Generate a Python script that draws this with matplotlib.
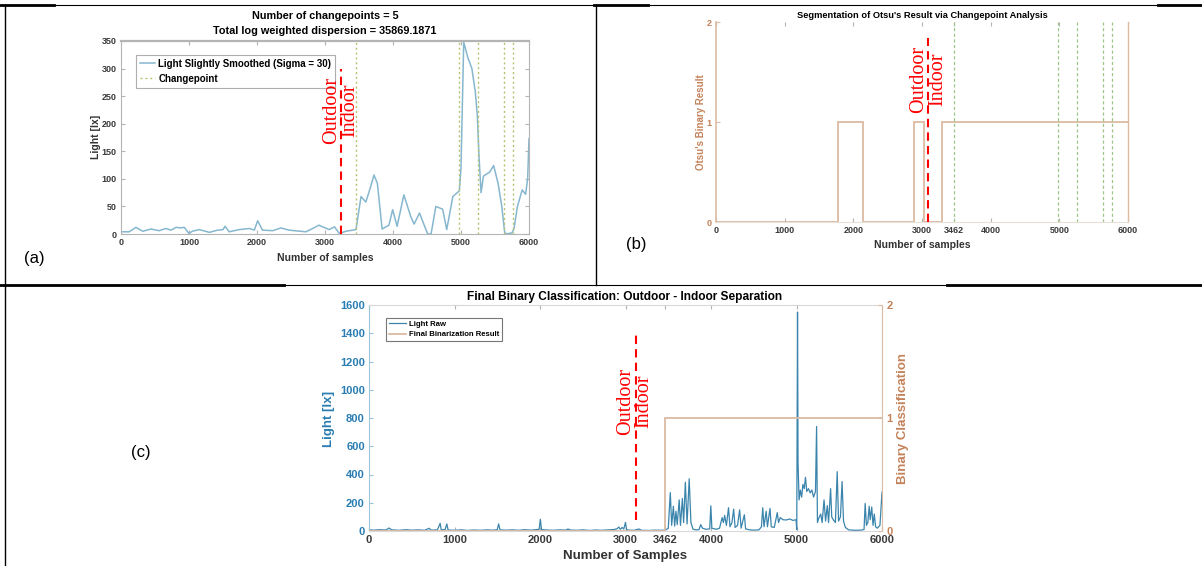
import matplotlib
matplotlib.use("Agg")
from matplotlib import pyplot as plt
from matplotlib.lines import Line2D

# ---- data ----
smooth_points = [(0, 4), (120, 4), (220, 12), (320, 5), (440, 9), (560, 6), (660, 10), (735, 7),
                 (810, 12), (880, 11), (930, 12), (1000, 1), (1050, 5), (1150, 8), (1300, 3),
                 (1420, 7), (1500, 8), (1530, 14), (1590, 4), (1740, 8), (1890, 10), (1960, 7),
                 (2010, 24), (2080, 7), (2230, 6), (2350, 11), (2470, 7), (2720, 4), (2820, 10),
                 (2910, 16), (3060, 8), (3140, 13), (3210, 1), (3310, 5), (3455, 8), (3530, 68),
                 (3600, 58), (3670, 85), (3720, 107), (3770, 92), (3840, 9), (3940, 16), (3995, 44),
                 (4060, 14), (4160, 71), (4260, 32), (4310, 18), (4390, 38), (4440, 22), (4510, 0),
                 (4560, 0), (4630, 50), (4730, 45), (4790, 8), (4880, 68), (4975, 78), (5000, 120),
                 (5040, 348), (5100, 320), (5160, 300), (5210, 258), (5240, 215), (5265, 140),
                 (5295, 75), (5330, 105), (5420, 112), (5480, 124), (5545, 92), (5600, 50),
                 (5640, 5), (5660, 0), (5750, 2), (5780, 10), (5830, 50), (5900, 80), (5950, 72),
                 (5980, 100), (6000, 173)]
changepoints = [3462, 4975, 5250, 5635, 5765]

otsu_edges = [0, 1775, 2135, 2877, 3026, 3288, 6000]
otsu_values = [0, 1, 0, 1, 0, 1]

raw_points = [(0, 8), (60, 6), (120, 9), (200, 7), (234, 21), (265, 8), (350, 5), (430, 9),
              (500, 6), (580, 8), (650, 5), (703, 19), (725, 6), (800, 8), (832, 54), (845, 8),
              (890, 10), (910, 50), (925, 7), (1000, 5), (1080, 8), (1150, 4), (1230, 7),
              (1300, 5), (1380, 8), (1450, 6), (1500, 9), (1516, 50), (1532, 8), (1600, 6),
              (1680, 8), (1750, 5), (1820, 9), (1900, 6), (1960, 10), (1990, 12), (2004, 83),
              (2018, 10), (2080, 7), (2150, 5), (2230, 8), (2300, 6), (2328, 14), (2355, 7),
              (2430, 5), (2500, 8), (2580, 4), (2650, 7), (2720, 5), (2800, 8), (2860, 10),
              (2900, 15), (2922, 28), (2940, 12), (2961, 25), (2980, 14), (3000, 61), (3012, 10),
              (3040, 6), (3100, 5), (3156, 14), (3190, 5), (3280, 4), (3350, 6), (3420, 5),
              (3462, 6), (3500, 18), (3524, 272), (3540, 40), (3560, 175), (3575, 35), (3590, 140),
              (3605, 45), (3628, 220), (3643, 40), (3665, 230), (3680, 60), (3700, 345), (3720, 50),
              (3745, 370), (3765, 60), (3790, 12), (3830, 8), (3860, 10), (3880, 45), (3900, 20),
              (3940, 12), (3985, 15), (3998, 178), (4010, 20), (4060, 12), (4100, 20), (4130, 95),
              (4145, 60), (4160, 110), (4180, 40), (4205, 165), (4222, 30), (4245, 60), (4265, 155),
              (4282, 25), (4310, 40), (4335, 150), (4352, 20), (4390, 115), (4405, 15), (4450, 8),
              (4500, 6), (4560, 8), (4590, 30), (4605, 165), (4620, 30), (4645, 140), (4660, 30),
              (4690, 160), (4705, 30), (4740, 25), (4775, 130), (4790, 60), (4810, 95), (4840, 80),
              (4880, 78), (4920, 85), (4960, 75), (4995, 80), (5003, 10), (5012, 1550), (5018, 480),
              (5030, 220), (5045, 290), (5060, 240), (5075, 330), (5090, 300), (5105, 380),
              (5120, 280), (5140, 300), (5160, 270), (5180, 290), (5200, 240), (5222, 280),
              (5235, 740), (5245, 60), (5260, 90), (5283, 120), (5300, 60), (5322, 220), (5340, 70),
              (5360, 180), (5375, 60), (5399, 300), (5412, 100), (5430, 80), (5455, 60), (5476, 420),
              (5492, 70), (5514, 100), (5533, 350), (5550, 70), (5572, 25), (5610, 8), (5680, 5),
              (5750, 6), (5790, 10), (5803, 195), (5818, 40), (5834, 60), (5850, 175), (5862, 80),
              (5880, 170), (5895, 40), (5910, 120), (5925, 30), (5945, 20), (5976, 40), (6000, 275)]
final_edges = [0, 3462, 6000]
final_values = [0, 1]

x_ticks = [0, 1000, 2000, 3000, 4000, 5000, 6000]
x_ticks_split = [0, 1000, 2000, 3000, 3462, 4000, 5000, 6000]

# ---- styles ----
SANS = ["Liberation Sans", "DejaVu Sans"]
SERIF = ["Liberation Serif", "DejaVu Serif"]
plt.rcParams['font.family'] = SANS
BLUE = '#2a7db3'
LIGHT_BLUE = '#86b7cf'
RAW_BLUE = '#3b85ad'
TAN = '#dcbba3'
TAN_TEXT = '#c4825a'
CP_GREEN = '#b7c270'
RED = '#ff0000'
GRAY = '#b4b4b4'
TICK_TXT = '#3a3a3a'

W, H = 1202, 566
fig = plt.figure(figsize=(W / 100, H / 100), dpi=100)

def px_axes(l, t, r, b):
    return fig.add_axes([l / W, 1 - b / H, (r - l) / W, (b - t) / H])

def ftext(x, y, s, **kw):
    return fig.text(x / W, 1 - y / H, s, **kw)

def hline(y, x0, x1, lw):
    fig.add_artist(Line2D([x0 / W, x1 / W], [1 - y / H, 1 - y / H], color='black', lw=lw))

def vline(x, y0, y1, lw):
    fig.add_artist(Line2D([x / W, x / W], [1 - y0 / H, 1 - y1 / H], color='black', lw=lw))

def outdoor_indoor(ax, x_out, x_in, y_mid, x_line, y_lo, y_hi):
    ax.plot([x_line, x_line], [y_lo, y_hi], color=RED, lw=1.5, ls=(0, (4, 2.5)), zorder=5)
    ax.text(x_out, y_mid, 'Outdoor', rotation=90, ha='center', va='center', color=RED,
            fontsize=14.5, family=SERIF, zorder=6)
    ax.text(x_in, y_mid, 'Indoor', rotation=90, ha='center', va='center', color=RED,
            fontsize=14.5, family=SERIF, zorder=6)

# ---- panel frame lines ----
hline(5, 0, 1202, 0.8)
hline(5, 0, 54, 2.0); hline(5, 594, 648, 2.0); hline(5, 1158, 1202, 2.0)
hline(285, 0, 1202, 0.8)
hline(285, 0, 284, 2.0); hline(285, 947, 1202, 2.0)
vline(5, 5, 566, 1.0)
vline(596, 5, 285, 1.0)

# ---- (a) ----
ax = px_axes(121, 41, 529, 234)
sx, sy = zip(*smooth_points)
ax.plot(sx, sy, color=LIGHT_BLUE, lw=1.1, label='Light Slightly Smoothed (Sigma = 30)')
for i, cp in enumerate(changepoints):
    ax.axvline(cp, color=CP_GREEN, lw=1.0, ls=(0, (1.5, 2)), label='Changepoint' if i == 0 else None)
outdoor_indoor(ax, 3102, 3366, 224, 3234, 0, 300)
ax.set_xlim(0, 6000); ax.set_ylim(0, 350)
ax.set_xticks(x_ticks); ax.set_yticks(range(0, 351, 50))
ax.tick_params(direction='in', length=3, top=True, right=True, labelsize=6.5,
               labelcolor=TICK_TXT, color=GRAY, pad=3)
for lab in ax.get_xticklabels() + ax.get_yticklabels():
    lab.set_fontweight('bold')
for s in ax.spines.values():
    s.set_color(GRAY); s.set_linewidth(0.8)
ax.spines['top'].set_linewidth(1.6)
leg = ax.legend(loc='upper left', bbox_to_anchor=(136 / W, 1 - 55 / H), bbox_transform=fig.transFigure,
                prop={'size': 7, 'weight': 'bold'}, frameon=True, fancybox=False, handlelength=1.6,
                borderpad=0.4, labelspacing=0.5, handletextpad=0.3, borderaxespad=0)
leg.get_frame().set_edgecolor('#9a9a9a'); leg.get_frame().set_linewidth(0.8)
ftext(325, 16, 'Number of changepoints = 5', ha='center', va='center', fontsize=7.8, weight='bold')
ftext(325, 31, 'Total log weighted dispersion = 35869.1871', ha='center', va='center', fontsize=7.8, weight='bold')
ftext(325, 258, 'Number of samples', ha='center', va='center', fontsize=7.5, weight='bold', color='#333333')
ftext(96, 137, 'Light [lx]', ha='center', va='center', rotation=90, fontsize=7.5, weight='bold', color='#333333')
ftext(34, 258, '(a)', ha='center', va='center', fontsize=12)

# ---- (b) ----
ax = px_axes(716, 22, 1128, 222)
ax.stairs(otsu_values, otsu_edges, color=TAN, lw=1.3, baseline=None)
for cp in changepoints:
    ax.axvline(cp, color='#9fc48a', lw=0.9, ls=(0, (2.5, 2)))
outdoor_indoor(ax, 2955, 3235, 1.43, 3090, 0, 1.84)
ax.set_xlim(0, 6000); ax.set_ylim(0, 2)
ax.set_xticks(x_ticks_split); ax.set_yticks([0, 1, 2])
ax.tick_params(axis='x', direction='in', length=3, top=True, labelsize=6.5, labelcolor=TICK_TXT,
               color=GRAY, pad=3)
ax.tick_params(axis='y', direction='in', length=3, labelsize=6.5, labelcolor=TAN_TEXT, color=TAN, pad=3)
for lab in ax.get_xticklabels() + ax.get_yticklabels():
    lab.set_fontweight('bold')
ax.spines['left'].set_color(TAN); ax.spines['right'].set_color(TAN)
ax.spines['top'].set_visible(False); ax.spines['bottom'].set_color('#e8e0da')
ax.spines['left'].set_linewidth(1.2); ax.spines['right'].set_linewidth(1.0)
ftext(922, 16, "Segmentation of Otsu's Result via Changepoint Analysis", ha='center', va='center',
      fontsize=6.7, weight='bold')
ftext(922, 245, 'Number of samples', ha='center', va='center', fontsize=7.5, weight='bold', color='#333333')
ftext(701, 122, "Otsu's Binary Result", ha='center', va='center', rotation=90, fontsize=7,
      weight='bold', color=TAN_TEXT)
ftext(636, 245, '(b)', ha='center', va='center', fontsize=12)

# ---- (c) ----
ax = px_axes(369, 305, 882, 531)
rx, ry = zip(*raw_points)
ax.plot(rx, ry, color=RAW_BLUE, lw=0.9)
outdoor_indoor(ax, 3000, 3218, 920, 3121, 75, 1415)
ax.set_xlim(0, 6000); ax.set_ylim(0, 1600)
ax.set_xticks(x_ticks_split); ax.set_yticks(range(0, 1601, 200))
ax.tick_params(axis='x', direction='in', length=3, top=True, labelsize=8, labelcolor=TICK_TXT,
               color=GRAY, pad=3)
ax.tick_params(axis='y', direction='in', length=3, labelsize=8, labelcolor=BLUE, color='#9cc4dc', pad=3)
for lab in ax.get_xticklabels() + ax.get_yticklabels():
    lab.set_fontweight('bold')
ax.spines['left'].set_color('#9cc4dc'); ax.spines['top'].set_color('#d8d8d8')
ax.spines['bottom'].set_color('#d8d8d8'); ax.spines['right'].set_color(TAN)
ax2 = ax.twinx()
ax2.stairs(final_values, final_edges, color=TAN, lw=1.3, baseline=None)
ax2.set_ylim(0, 2); ax2.set_yticks([0, 1, 2])
ax2.tick_params(axis='y', direction='in', length=3, labelsize=8, labelcolor=TAN_TEXT, color=TAN, pad=3)
for lab in ax2.get_yticklabels():
    lab.set_fontweight('bold')
for s in ax2.spines.values():
    s.set_visible(False)
handles = [Line2D([], [], color=RAW_BLUE, lw=0.9), Line2D([], [], color=TAN, lw=1.3)]
leg = ax.legend(handles, ['Light Raw', 'Final Binarization Result'], loc='upper left',
                bbox_to_anchor=(386 / W, 1 - 318 / H), bbox_transform=fig.transFigure,
                prop={'size': 5.6, 'weight': 'bold'}, frameon=True, fancybox=False, handlelength=2.2,
                borderpad=0.35, labelspacing=0.35, handletextpad=0.4, borderaxespad=0)
leg.get_frame().set_edgecolor('#555555'); leg.get_frame().set_linewidth(0.8)
ftext(625, 297, 'Final Binary Classification: Outdoor - Indoor Separation', ha='center', va='center',
      fontsize=8.6, weight='bold')
ftext(625, 556, 'Number of Samples', ha='center', va='center', fontsize=9.5, weight='bold', color='#333333')
ftext(329, 419, 'Light [lx]', ha='center', va='center', rotation=90, fontsize=9.5, weight='bold', color=BLUE)
ftext(903, 418, 'Binary Classification', ha='center', va='center', rotation=90, fontsize=9.5,
      weight='bold', color=TAN_TEXT)
ftext(141, 452, '(c)', ha='center', va='center', fontsize=12)

fig.savefig('out.png', dpi=100)
